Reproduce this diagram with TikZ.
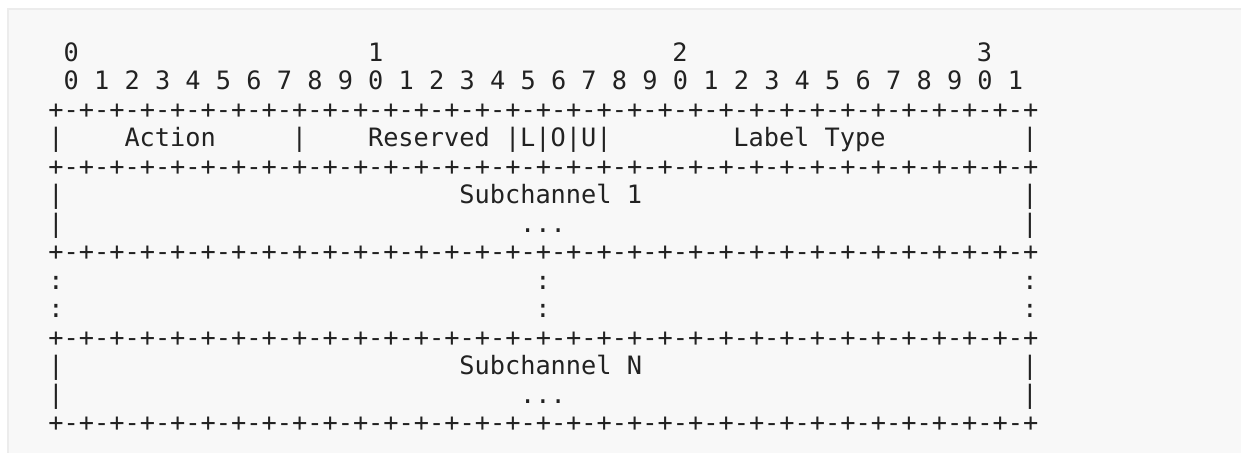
\documentclass[tikz,border=0pt]{standalone}
\usepackage{fontspec}
\setmonofont{DejaVu Sans Mono}
\definecolor{pagebg}{HTML}{F8F8F8}
\definecolor{pageedge}{HTML}{ECECEC}
\definecolor{ink}{HTML}{222222}
\newcommand\plusdash{+-+-+-+-+-+-+-+-}
\newcommand\ruleline{\plusdash\plusdash\plusdash\plusdash+}
\tikzset{
  ch/.style={anchor=base west, inner sep=0pt, outer sep=0pt, text=ink,
    font=\fontsize{12.65pt}{14pt}\selectfont\ttfamily},
}
\begin{document}
\begin{tikzpicture}[x=7.61pt, y=-14.25pt]
  % page frame
  \useasboundingbox (-24.2pt,16.5pt) rectangle (596.3pt,-210pt);
  \fill[white] (-24.2pt,16.5pt) rectangle (596.3pt,-210pt);
  \fill[pageedge] (-20.9pt,12.6pt) rectangle (596.3pt,-210pt);
  \fill[pagebg] (-19.9pt,11.6pt) rectangle (596.3pt,-210pt);

  % bit numbers
  \node[ch] (tens0) at (1,1) {0};
  \node[ch] (tens1) at (21,1) {1};
  \node[ch] (tens2) at (41,1) {2};
  \node[ch] (tens3) at (61,1) {3};
  \node[ch] (ones) at (1,2) {0 1 2 3 4 5 6 7 8 9 0 1 2 3 4 5 6 7 8 9 0 1 2 3 4 5 6 7 8 9 0 1};

  % borders
  \foreach \r in {3,5,8,11,14}
    \node[ch] (rule\r) at (0,\r) {\ruleline};
  \foreach \r in {4,6,7,12,13} {
    \node[ch] (lbar\r) at (0,\r) {|};
    \node[ch] (rbar\r) at (64,\r) {|};
  }
  \foreach \r in {9,10} {
    \node[ch] (lcol\r) at (0,\r) {:};
    \node[ch] (mcol\r) at (32,\r) {:};
    \node[ch] (rcol\r) at (64,\r) {:};
  }

  % first word
  \node[ch] (action) at (5,4) {Action};
  \node[ch] (sep1) at (16,4) {|};
  \node[ch] (reserved) at (21,4) {Reserved};
  \node[ch] (flags) at (30,4) {|L|O|U|};
  \node[ch] (labtype) at (45,4) {Label Type};

  % subchannels
  \node[ch] (sub1) at (27,6) {Subchannel 1};
  \node[ch] (dots1) at (31,7) {...};
  \node[ch] (subN) at (27,12) {Subchannel N};
  \node[ch] (dotsN) at (31,13) {...};
\end{tikzpicture}
\end{document}
